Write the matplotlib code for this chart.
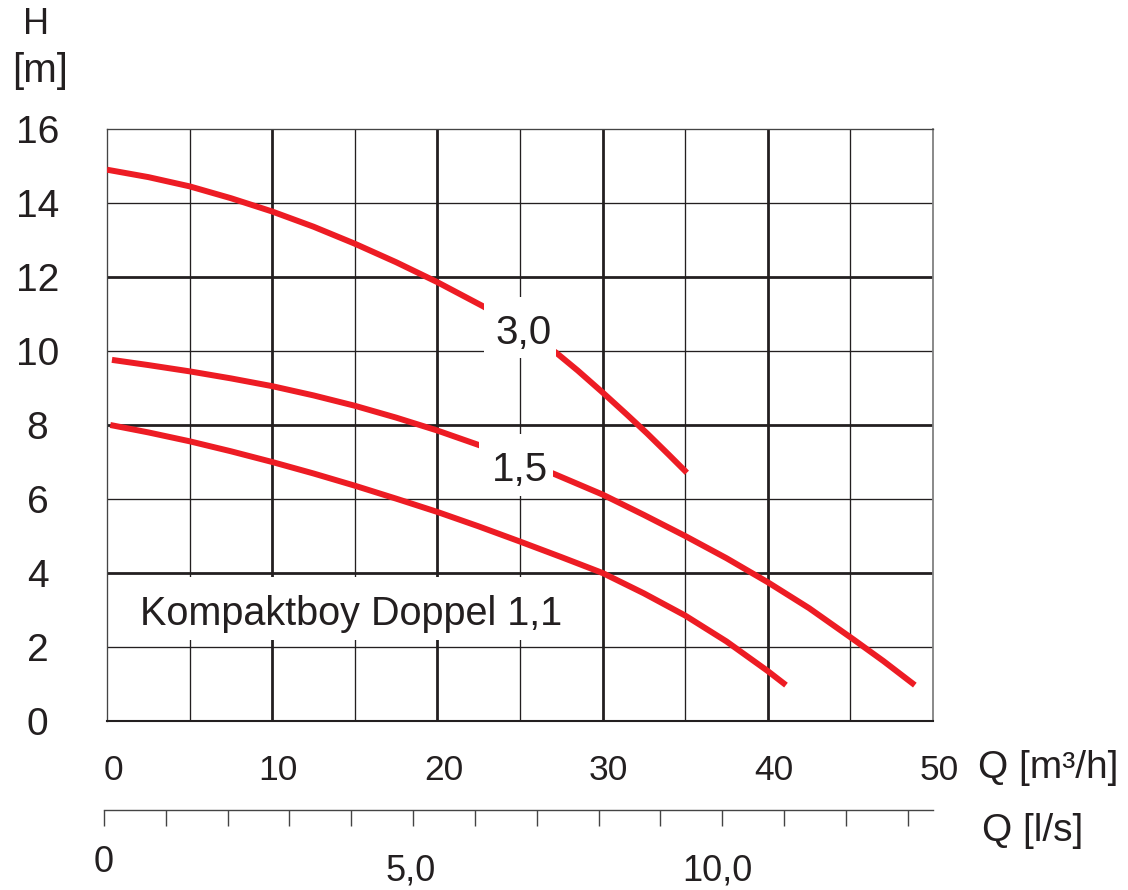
import numpy as np
import matplotlib
matplotlib.use("Agg")
import matplotlib.pyplot as plt
from matplotlib.patches import Rectangle
from matplotlib.transforms import ScaledTranslation

plt.rcParams["font.family"] = ["Liberation Sans", "DejaVu Sans"]

# pump curves: Q [m3/h] -> H [m]
q_30 = [0, 2.5, 5, 7.5, 10, 12.5, 15, 17.5, 20, 22.8, 25, 27.2, 28.5, 30, 31.5, 32.7, 34, 35.1]
h_30 = [14.9, 14.7, 14.45, 14.13, 13.77, 13.36, 12.9, 12.4, 11.86, 11.2, 10.62, 9.95, 9.47, 8.88, 8.27, 7.77, 7.2, 6.71]

q_15 = [0.3, 2.5, 5, 7.5, 10, 12.5, 15, 17.5, 20, 22.5, 25, 27, 30, 32.5, 35, 37.5, 40, 42.5, 45.2, 47, 48.9]
h_15 = [9.76, 9.62, 9.45, 9.26, 9.05, 8.8, 8.52, 8.2, 7.85, 7.46, 7.04, 6.69, 6.12, 5.57, 5.0, 4.4, 3.75, 3.05, 2.2, 1.62, 0.97]

q_11 = [0.2, 2.5, 5, 7.5, 10, 12.5, 15, 17.5, 20, 22.5, 25, 27.5, 30, 32.5, 35, 37.5, 40, 41.1]
h_11 = [8.0, 7.8, 7.56, 7.29, 7.0, 6.69, 6.36, 6.01, 5.65, 5.26, 4.85, 4.43, 4.0, 3.45, 2.85, 2.15, 1.35, 0.97]

x_ticks = [0, 10, 20, 30, 40, 50]
y_ticks = [0, 2, 4, 6, 8, 10, 12, 14, 16]
ls_ticks = list(range(14))
ls_labels = {0: "0", 5: "5,0", 10: "10,0"}

title = "Kompaktboy Doppel 1,1"
curve_labels = [("3,0", 25.2, 10.19), ("1,5", 25.0, 6.5)]

RED = "#ed1c24"
INK = "#231f20"

fig = plt.figure(figsize=(11.28, 8.90), dpi=100)
W, H = 1128, 890
ax = fig.add_axes([107 / W, 1 - 721 / H, (933 - 107) / W, (721 - 129) / H])
ax.set_xlim(0, 50)
ax.set_ylim(0, 16)

# grid: thick every 10 m3/h and every 4 m, thin in between
for q in np.arange(5, 50, 5):
    ax.axvline(q, color=INK, lw=2.0 if q % 10 == 0 else 0.95, zorder=1)
for h in np.arange(2, 16, 2):
    ax.axhline(h, color=INK, lw=2.0 if h % 4 == 0 else 0.95, zorder=1)

for side in ("left", "top"):
    ax.spines[side].set_linewidth(0.95)
    ax.spines[side].set_color("#444444")
ax.spines["right"].set_linewidth(1.3)
ax.spines["right"].set_color("#808080")
ax.spines["bottom"].set_linewidth(1.5)
ax.spines["bottom"].set_color(INK)

# title box hides the grid behind it
ax.add_patch(Rectangle((0.1, 2.2), 28.4, 1.68, facecolor="white", edgecolor="none", zorder=2))
ax.text(14.77, 2.59, title, fontsize=28.5, color=INK, ha="center", va="baseline", zorder=2.5)

for q, h in [(q_30, h_30), (q_15, h_15), (q_11, h_11)]:
    ax.plot(q, h, color=RED, lw=4.3, solid_capstyle="butt", solid_joinstyle="round", zorder=3)

# curve labels sit in white boxes that cut the curves
ax.add_patch(Rectangle((22.8, 9.8), 4.4, 1.65, facecolor="white", edgecolor="none", zorder=4))
ax.add_patch(Rectangle((22.5, 6.09), 4.5, 1.67, facecolor="white", edgecolor="none", zorder=4))
for txt, q, h in curve_labels:
    ax.text(q, h, txt, fontsize=29, color=INK, ha="center", va="baseline", zorder=5)

ax.set_xticks(x_ticks)
ax.set_xticklabels([str(v) for v in x_ticks])
ax.set_yticks(y_ticks)
ax.set_yticklabels([str(v) for v in y_ticks])
ax.tick_params(axis="x", length=0, pad=24, labelsize=25.5, labelcolor=INK)
ax.tick_params(axis="y", length=0, pad=50, labelsize=28, labelcolor=INK)
for lab in ax.get_yticklabels():
    lab.set_horizontalalignment("center")
shift = ScaledTranslation(6 / 100, 0, fig.dpi_scale_trans)
for lab in ax.get_xticklabels():
    lab.set_transform(lab.get_transform() + shift)

# secondary flow axis in l/s
ax2 = fig.add_axes([104 / W, 1 - 810 / H, (933 - 104) / W, 0.0001])
ax2.set_xlim(0, 13.41)
ax2.set_ylim(0, 1)
for side in ("left", "right", "top"):
    ax2.spines[side].set_visible(False)
ax2.spines["bottom"].set_linewidth(1.0)
ax2.spines["bottom"].set_color("#444444")
ax2.set_yticks([])
ax2.set_xticks(ls_ticks)
ax2.set_xticklabels([ls_labels.get(t, "") for t in ls_ticks])
ax2.tick_params(axis="x", direction="out", length=11.5, width=1.0, color="#444444",
                pad=14, labelsize=26, labelcolor=INK)
for t, lab in zip(ls_ticks, ax2.get_xticklabels()):
    if t in (5, 10):
        dx = -2 if t == 5 else -5
        lab.set_transform(lab.get_transform() + ScaledTranslation(dx / 100, -8 / 100, fig.dpi_scale_trans))

fig.text(978 / W, 1 - 768 / H, "Q [m³/h]", fontsize=28, color=INK, ha="left", va="center")
fig.text(982 / W, 1 - 831 / H, "Q [l/s]", fontsize=28, color=INK, ha="left", va="center")
fig.text(36 / W, 1 - 24 / H, "H", fontsize=26, color=INK, ha="center", va="center")
fig.text(40 / W, 1 - 71 / H, "[m]", fontsize=29, color=INK, ha="center", va="center")

fig.savefig("out.png", dpi=100, facecolor="white")
